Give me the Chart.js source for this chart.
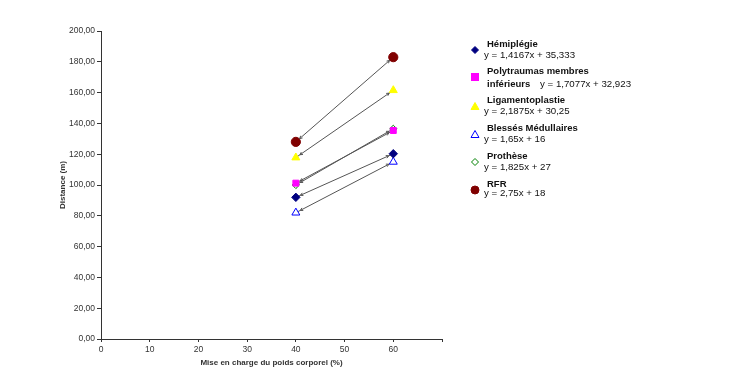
<!DOCTYPE html>
<html><head><meta charset="utf-8">
<script src="https://cdn.jsdelivr.net/npm/chart.js@4/dist/chart.umd.min.js"></script>
<style>
html,body{margin:0;padding:0;background:#fff;}
#wrap{position:relative;width:750px;height:386px;}
#legend{position:absolute;left:470px;top:38px;width:260px;font-family:"Liberation Sans",Arial,sans-serif;color:#111;}
.mk{position:absolute;left:0;}
.nm{position:absolute;left:17px;font-weight:bold;font-size:9.5px;white-space:nowrap;}
.eq{position:absolute;font-size:9.7px;white-space:nowrap;}
</style></head>
<body><div id="wrap"><canvas id="c" width="750" height="386"></canvas><div id="legend"></div></div>
<script>
const xValues = [40, 60];
const seriesNames = ["Hémiplégie", "Polytraumas membres inférieurs", "Ligamentoplastie", "Blessés Médullaires", "Prothèse", "RFR"];
const hemiplegie = [92.0, 120.3];
const polytraumas = [101.2, 135.4];
const ligamentoplastie = [117.8, 161.5];
const blesses = [82.0, 115.0];
const prothese = [100.0, 136.5];
const rfr = [128.0, 183.0];
const equations = ["y = 1,4167x + 35,333", "y = 1,7077x + 32,923", "y = 2,1875x + 30,25", "y = 1,65x + 16", "y = 1,825x + 27", "y = 2,75x + 18"];
const yTicks = [0, 20, 40, 60, 80, 100, 120, 140, 160, 180, 200];
const xTicks = [0, 10, 20, 30, 40, 50, 60, 70];

const allValues = [hemiplegie, polytraumas, ligamentoplastie, blesses, prothese, rfr];
const styles = [
  {c:'#000080', f:'#000080', ps:'rectRot', r:4.2, order:1},
  {c:'#ff00ff', f:'#ff00ff', ps:'rect', r:4.2, order:0},
  {c:'#ffff00', f:'#ffff00', ps:'triangle', r:4.6, order:1},
  {c:'#0000ff', f:'#ffffff', ps:'triangle', r:4.6, order:1},
  {c:'#008000', f:'#ffffff', ps:'rectRot', r:3.6, order:5},
  {c:'#800000', f:'#800000', ps:'circle', r:4.6, order:1}
];

const datasets = allValues.map((vals, i) => ({
  label: seriesNames[i],
  data: xValues.map((x, j) => ({x: x, y: vals[j]})),
  borderColor: '#555',
  borderWidth: 1,
  pointStyle: styles[i].ps,
  pointRadius: styles[i].r,
  pointBackgroundColor: styles[i].f,
  pointBorderColor: styles[i].c,
  pointBorderWidth: 1,
  order: styles[i].order,
  showLine: true,
  fill: false
}));

const arrowPlugin = {
  id: 'arrows',
  afterDatasetsDraw(chart) {
    const ctx = chart.ctx, xs = chart.scales.x, ys = chart.scales.y;
    ctx.save();
    ctx.strokeStyle = '#555'; ctx.lineWidth = 1;
    allValues.forEach(vals => {
      const x0 = xs.getPixelForValue(xValues[0]), y0 = ys.getPixelForValue(vals[0]);
      const x1 = xs.getPixelForValue(xValues[1]), y1 = ys.getPixelForValue(vals[1]);
      const a = Math.atan2(y1 - y0, x1 - x0);
      [[x1, y1, a, 5], [x0, y0, a + Math.PI, 5]].forEach(([px, py, ang, off]) => {
        const tx = px - Math.cos(ang) * off, ty = py - Math.sin(ang) * off;
        ctx.beginPath();
        ctx.moveTo(tx - Math.cos(ang - 0.5) * 3, ty - Math.sin(ang - 0.5) * 3);
        ctx.lineTo(tx, ty);
        ctx.lineTo(tx - Math.cos(ang + 0.5) * 3, ty - Math.sin(ang + 0.5) * 3);
        ctx.stroke();
      });
    });
    ctx.restore();
  }
};

new Chart(document.getElementById('c'), {
  type: 'scatter',
  data: { datasets },
  plugins: [arrowPlugin],
  options: {
    responsive: false,
    animation: false,
    layout: { padding: { left: 58, right: 308, top: 31, bottom: 18 } },
    plugins: { legend: { display: false }, tooltip: { enabled: false } },
    scales: {
      x: {
        type: 'linear', min: 0, max: 70,
        afterBuildTicks: s => { s.ticks = xTicks.map(v => ({value: v})); },
        afterFit: s => { s.height = 29; },
        ticks: { callback: v => v === 70 ? '' : String(v), font: {family: 'Liberation Sans', size: 8.5}, color: '#333', padding: 3, maxRotation: 0 },
        grid: { drawOnChartArea: false, drawTicks: true, tickLength: 3, color: '#333' },
        border: { display: true, color: '#333', width: 1 },
        title: { display: true, text: 'Mise en charge du poids corporel (%)', font: {family: 'Liberation Sans', size: 8, weight: 'bold'}, color: '#333', padding: {top: 3, bottom: 0} }
      },
      y: {
        type: 'linear', min: 0, max: 200,
        afterBuildTicks: s => { s.ticks = yTicks.map(v => ({value: v})); },
        afterFit: s => { s.width = 43; },
        ticks: { callback: v => v.toFixed(2).replace('.', ','), font: {family: 'Liberation Sans', size: 8.5}, color: '#333', padding: 2 },
        grid: { drawOnChartArea: false, drawTicks: true, tickLength: 4, color: '#333' },
        border: { display: true, color: '#333', width: 1 },
        title: { display: true, text: 'Distance (m)', font: {family: 'Liberation Sans', size: 8, weight: 'bold'}, color: '#333', padding: 0 }
      }
    }
  }
});

// HTML legend built from the arrays
const legendRows = [
  {mk: 8, nm: 3, eq: 14, eqx: 14},
  {mk: 35, nm: 30, nm2: 43, eq: 43, eqx: 70},
  {mk: 64, nm: 59, eq: 70, eqx: 14},
  {mk: 92, nm: 87, eq: 98, eqx: 14},
  {mk: 120, nm: 115, eq: 126, eqx: 14},
  {mk: 148, nm: 143, eq: 152, eqx: 14}
];
function markerSvg(i) {
  const s = styles[i];
  let shape = '';
  if (s.ps === 'rectRot') shape = `<polygon points="5,1.5 8.5,5 5,8.5 1.5,5" fill="${s.f}" stroke="${s.c}" stroke-width="1"/>`;
  else if (s.ps === 'rect') shape = `<rect x="1.5" y="1.5" width="7" height="7" fill="${s.f}" stroke="${s.c}"/>`;
  else if (s.ps === 'triangle') shape = `<polygon points="5,1.5 9,8.5 1,8.5" fill="${s.f}" stroke="${s.c}" stroke-width="1"/>`;
  else shape = `<circle cx="5" cy="5" r="4" fill="${s.f}" stroke="${s.c}"/>`;
  return `<svg width="10" height="10" viewBox="0 0 10 10">${shape}</svg>`;
}
const leg = document.getElementById('legend');
seriesNames.forEach((name, i) => {
  const r = legendRows[i];
  const m = document.createElement('div'); m.className = 'mk'; m.style.top = (r.mk - 5) + 'px'; m.innerHTML = markerSvg(i); leg.appendChild(m);
  if (r.nm2 !== undefined) {
    const parts = name.split(' ');
    const n1 = document.createElement('div'); n1.className = 'nm'; n1.style.top = (r.nm - 3) + 'px'; n1.textContent = parts.slice(0, 2).join(' '); leg.appendChild(n1);
    const n2 = document.createElement('div'); n2.className = 'nm'; n2.style.top = (r.nm2 - 3) + 'px'; n2.textContent = parts.slice(2).join(' '); leg.appendChild(n2);
  } else {
    const n = document.createElement('div'); n.className = 'nm'; n.style.top = (r.nm - 3) + 'px'; n.textContent = name; leg.appendChild(n);
  }
  const e = document.createElement('div'); e.className = 'eq'; e.style.top = (r.eq - 3) + 'px'; e.style.left = r.eqx + 'px'; e.textContent = equations[i]; leg.appendChild(e);
});
</script></body></html>
